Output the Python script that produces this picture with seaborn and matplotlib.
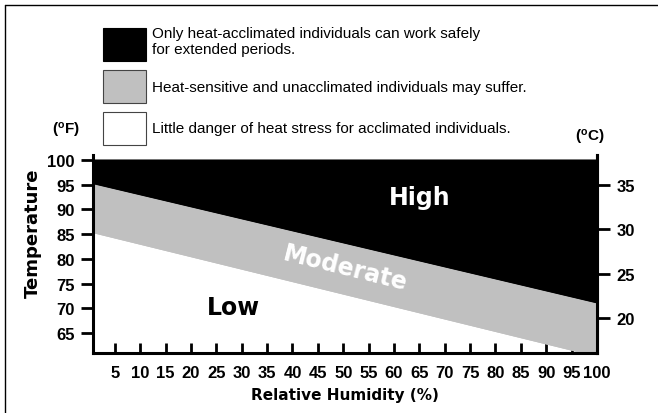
import matplotlib
matplotlib.use('Agg')
import matplotlib.pyplot as plt
from matplotlib.patches import Rectangle
from matplotlib.lines import Line2D
import pandas as pd
import seaborn as sns

# Boundary lines of the heat-stress zones
humidity = [0.7, 100.0]
upper_f = [95.2, 71.1]   # black / gray boundary (deg F)
lower_f = [85.3, 60.3]   # gray / white boundary (deg F)
top_f = 100.2

x_ticks = list(range(5, 101, 5))
f_ticks = [65, 70, 75, 80, 85, 90, 95, 100]
c_ticks = [20, 25, 30, 35]

zone_labels = ['High', 'Moderate', 'Low']
legend_texts = [
    'Only heat-acclimated individuals can work safely\nfor extended periods.',
    'Heat-sensitive and unacclimated individuals may suffer.',
    'Little danger of heat stress for acclimated individuals.',
]
legend_colors = ['#000000', '#c0c0c0', '#ffffff']

GRAY = '#c0c0c0'
HEAVY = 'DejaVu Sans'
W, H = 658, 414

sns.set_style('white')
plt.rcParams['font.family'] = ['Liberation Sans', 'DejaVu Sans']
plt.rcParams['mathtext.fontset'] = 'custom'
plt.rcParams['mathtext.rm'] = 'Liberation Sans:bold'
plt.rcParams['mathtext.default'] = 'rm'
for key in ['text.color', 'axes.labelcolor', 'xtick.color', 'ytick.color']:
    plt.rcParams[key] = 'black'

df = pd.DataFrame({'humidity': humidity, 'upper': upper_f, 'lower': lower_f})

fig = plt.figure(figsize=(W / 100, H / 100), dpi=100)


def fx(px):
    return px / W


def fy(py):
    return 1 - py / H


ax = fig.add_axes([fx(93), fy(354), fx(597) - fx(93), fy(156) - fy(354)])

ax.fill_between(df['humidity'], df['upper'], top_f, color='black', lw=0)
ax.fill_between(df['humidity'], df['lower'], df['upper'], color=GRAY, lw=0)
sns.lineplot(data=df, x='humidity', y='upper', ax=ax, color='black', lw=0.6)
sns.lineplot(data=df, x='humidity', y='lower', ax=ax, color=GRAY, lw=0.6)

ax.set_xlim(0.7, 100)
ax.set_ylim(61, 101)

for s in ['left', 'bottom', 'right']:
    ax.spines[s].set_visible(True)
    ax.spines[s].set_linewidth(2.2)
    ax.spines[s].set_color('black')
ax.spines['top'].set_visible(False)

ax.set_xticks(x_ticks)
ax.set_xticklabels([str(t) for t in x_ticks])
ax.set_yticks(f_ticks)
ax.set_yticklabels([str(t) for t in f_ticks])
ax.tick_params(axis='x', direction='in', length=7, width=2, pad=9,
               labelsize=12, bottom=True, colors='black')
ax.tick_params(axis='y', direction='out', length=9, width=2, pad=4,
               labelsize=12, left=True, colors='black')
for lab in ax.get_xticklabels() + ax.get_yticklabels():
    lab.set_fontweight('bold')

ax.set_xlabel('Relative Humidity (%)', fontsize=11, fontweight='bold',
              family=HEAVY, labelpad=5, color='black')
ax.set_ylabel('Temperature', fontsize=13, fontweight='bold', family=HEAVY, color='black')
ax.yaxis.set_label_coords(-0.101, 0.61)

sec = ax.secondary_yaxis('right', functions=(lambda f: (f - 32) * 5 / 9,
                                             lambda c: c * 9 / 5 + 32))
sec.set_yticks(c_ticks)
sec.spines['right'].set_linewidth(2.2)
sec.spines['right'].set_color('black')
sec.tick_params(axis='y', direction='out', length=9, width=2, pad=5, labelsize=12,
                colors='black')
for lab in sec.get_yticklabels():
    lab.set_fontweight('bold')

# zone labels
ax.text(65, 92.6, zone_labels[0], color='white', fontsize=17, fontweight='bold',
        family=HEAVY, ha='center', va='center')
ax.text(50.5, 78.2, zone_labels[1], color='white', fontsize=17, fontweight='bold',
        family=HEAVY, ha='center', va='center', rotation=-14)
ax.text(28.3, 70.2, zone_labels[2], color='black', fontsize=17, fontweight='bold',
        family=HEAVY, ha='center', va='center')

# unit labels
fig.text(fx(66), fy(130), r'($^{o}$F)', fontsize=11, fontweight='bold', ha='center', va='center')
fig.text(fx(590), fy(138), r'($^{o}$C)', fontsize=11, fontweight='bold', ha='center', va='center')

# legend boxes
box_tops = [29, 71, 113]
text_ys = [42, 88, 129]
for top, col, txt, ty in zip(box_tops, legend_colors, legend_texts, text_ys):
    fig.add_artist(Rectangle((fx(103), fy(top + 33)), fx(43), 33 / H,
                             transform=fig.transFigure, facecolor=col,
                             edgecolor='black' if col == '#000000' else '#444444', lw=0.8))
    fig.text(fx(152), fy(ty), txt, fontsize=11, ha='left', va='center', linespacing=1.15)

# partial outer frame (left and top)
fig.add_artist(Line2D([fx(5), fx(5)], [0, fy(6)], transform=fig.transFigure, color='black', lw=1))
fig.add_artist(Line2D([fx(5), 1], [fy(6), fy(6)], transform=fig.transFigure, color='black', lw=1))

fig.savefig('out.png', dpi=100)
